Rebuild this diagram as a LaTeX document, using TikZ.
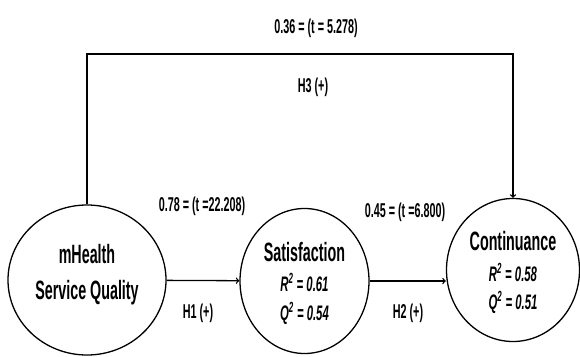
\documentclass[tikz,border=0pt]{standalone}
\usepackage{fontspec}
\setmainfont{Liberation Sans}[FakeStretch=0.54]
\usetikzlibrary{positioning}
\usetikzlibrary{shapes.geometric}
\usetikzlibrary{arrows}
\tikzstyle{construct} = [ellipse, draw, line width=1.3pt, align=center, inner sep=0pt, font=\bfseries\fontsize{26.5}{30}\selectfont]
\tikzstyle{path label} = [font=\bfseries\fontsize{20}{24}\selectfont]
\tikzstyle{link} = [->, >=to, draw, line width=1.3pt]
\newcommand{\fitstat}[2]{{\itshape\fontsize{21}{25}\selectfont #1\textsuperscript{2} = #2}}

\begin{document}
\begin{tikzpicture}[x=1pt, y=-1pt]
        \useasboundingbox (0,0) rectangle (580,356);
        \node[construct, minimum width=158pt, minimum height=150pt, text depth=16pt] (mhealth) at (87,280) {mHealth\\[6pt]Service Quality};
        \node[construct, minimum width=129pt, minimum height=145pt, text depth=0pt] (satisf) at (304.5,281) {Satisfaction\\[0pt]\fitstat{R}{0.61}\\[-1pt]\fitstat{Q}{0.54}};
        \node[construct, minimum width=133pt, minimum height=143pt, text depth=0pt] (contin) at (513,270) {Continuance\\[1pt]\fitstat{R}{0.58}\\[-2pt]\fitstat{Q}{0.51}};
        \coordinate (corner) at (87,54);

        \path[link] (mhealth) -- (satisf);
        \path[link] (satisf.east) -- (satisf.east -| contin.west);
        \path[link] (mhealth.north) -- (corner) -| (contin.north);

        \node[path label] (beta3) at (316,28) {0.36 = (t = 5.278)};
        \node[path label] (hyp3) at (313,87) {H3 (+)};
        \node[path label] (beta1) at (202,206) {0.78 = (t =22.208)};
        \node[path label] (hyp1) at (198,313) {H1 (+)};
        \node[path label] (beta2) at (405,212) {0.45 = (t =6.800)};
        \node[path label] (hyp2) at (408,313) {H2 (+)};
    \end{tikzpicture}
\end{document}
